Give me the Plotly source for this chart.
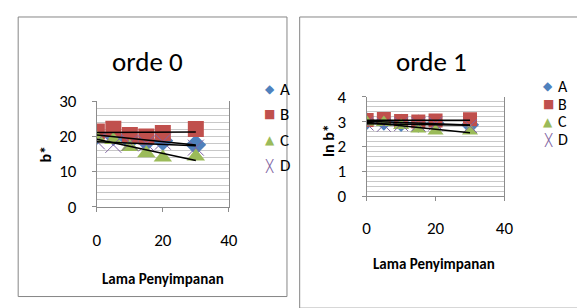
import numpy as np
import plotly.graph_objects as go

W, H = 577, 308
days = [0, 5, 10, 15, 20, 30]
series = ["A", "B", "C", "D"]

# orde 0 : b*
b_A = [20.5, 20.2, 19.0, 18.6, 18.8, 17.6]
b_B = [21.4, 22.2, 20.4, 20.0, 21.0, 22.1]
b_C = [19.5, 19.0, 17.0, 15.2, 14.0, 14.3]
b_D = [18.6, 17.6, 18.2, 18.0, 18.5, 16.8]

# orde 1 : ln b*
ln_A = [3.02, 3.00, 2.95, 2.92, 2.93, 2.87]
ln_B = [3.06, 3.10, 3.02, 3.00, 3.04, 3.09]
ln_C = [2.98, 2.96, 2.84, 2.70, 2.62, 2.62]
ln_D = [2.92, 2.87, 2.90, 2.89, 2.92, 2.82]

colors = {"A": "#4F81BD", "B": "#C0504D", "C": "#9BBB59", "D": "#8064A2"}
symbols = {"A": "diamond", "B": "square", "C": "triangle-up", "D": "x-thin-open"}
glyphs = {"A": "◆", "B": "■", "C": "▲", "D": "╳"}

FONT = "Carlito, 'Liberation Sans Narrow', 'DejaVu Sans Condensed', sans-serif"

def px(x):
    return x / W

def py(y):
    return 1 - y / H

def marker(name, size):
    sym = symbols[name]
    mk = dict(symbol=sym, size=size, color=colors[name])
    if sym.startswith("x"):
        mk["line"] = dict(color=colors[name], width=1)
    return mk

P = [
    dict(xa="x", ya="y", data=[b_A, b_B, b_C, b_D], ms=16,
         leg_x=272, leg_y=[85, 112, 140, 167], leg_fs=17),
    dict(xa="x2", ya="y2", data=[ln_A, ln_B, ln_C, ln_D], ms=14,
         leg_x=557, leg_y=[82, 101, 120, 139], leg_fs=16),
]

fig = go.Figure()
for p in P:
    for name, vals in zip(series, p["data"]):
        fig.add_trace(go.Scatter(x=days, y=vals, mode="markers", name=name,
                                 marker=marker(name, p["ms"]), xaxis=p["xa"], yaxis=p["ya"],
                                 showlegend=False))
    for name, vals in zip(series, p["data"]):
        k, c = np.polyfit(days, vals, 1)
        xs = [days[0], days[-1]]
        fig.add_trace(go.Scatter(x=xs, y=[c + k * xs[0], c + k * xs[1]],
                                 mode="lines", line=dict(color="black", width=1.5),
                                 xaxis=p["xa"], yaxis=p["ya"], showlegend=False,
                                 hoverinfo="skip"))

grid = "#C8C8C8"
axl = "#8C8C8C"
tf = dict(family=FONT, size=17, color="black")
common_x = dict(range=[0, 40], dtick=20, showgrid=False, zeroline=False,
                showline=True, linecolor=axl, ticks="outside", ticklen=4,
                tickcolor=axl, tickfont=tf)
common_y = dict(showgrid=True, gridcolor=grid, zeroline=False, showline=True,
                linecolor=axl, mirror=True, ticks="outside", ticklen=4, tickcolor=axl,
                ticklabelstandoff=12, tickfont=tf)
fig.update_layout(
    width=W, height=H, margin=dict(l=0, r=0, t=0, b=0),
    paper_bgcolor="white", plot_bgcolor="white", showlegend=False,
    xaxis=dict(domain=[px(95), px(230)], anchor="y", ticklabelstandoff=14, **common_x),
    yaxis=dict(domain=[py(211), py(98)], anchor="x", range=[0, 30], dtick=10,
               minor=dict(dtick=2, showgrid=True, gridcolor=grid), **common_y),
    xaxis2=dict(domain=[px(371), px(512)], anchor="y2", ticklabelstandoff=12, **common_x),
    yaxis2=dict(domain=[py(200), py(93)], anchor="x2", range=[0, 4], dtick=1,
                minor=dict(dtick=0.2, showgrid=True, gridcolor=grid), **common_y),
)

fig.add_shape(type="rect", xref="paper", yref="paper", x0=px(14.5), x1=px(289.5),
              y0=py(307.5), y1=py(7.5), line=dict(color="#868686", width=1), layer="below")
fig.add_shape(type="rect", xref="paper", yref="paper", x0=px(302.5), x1=px(590),
              y0=py(320), y1=py(7.5), line=dict(color="#868686", width=1), layer="below")

ann = []
def text(x, y, s, size, bold=False, angle=0, xanchor="center", color="black", family=FONT):
    ann.append(dict(x=px(x), y=py(y), xref="paper", yref="paper",
                    text=(f"<b>{s}</b>" if bold else s),
                    showarrow=False, textangle=angle, xanchor=xanchor, yanchor="middle",
                    font=dict(family=family, size=size, color=color)))

text(147, 55, "orde 0", 27)
text(437, 55, "orde 1", 27)
text(42, 155, "b*", 16, bold=True, angle=-90)
text(332, 140, "ln b*", 16, bold=True, angle=-90)
text(163, 289, "Lama Penyimpanan", 15, bold=True)
text(440, 273, "Lama Penyimpanan", 15, bold=True)
for p in P:
    for name, ly in zip(series, p["leg_y"]):
        text(p["leg_x"], ly, glyphs[name], 12, color=colors[name], family="DejaVu Sans")
        text(p["leg_x"] + 8, ly, name, p["leg_fs"], xanchor="left")
fig.update_layout(annotations=ann)

fig.write_html("out.html", config={"displayModeBar": False},
               post_script="document.body.style.margin='0';")
